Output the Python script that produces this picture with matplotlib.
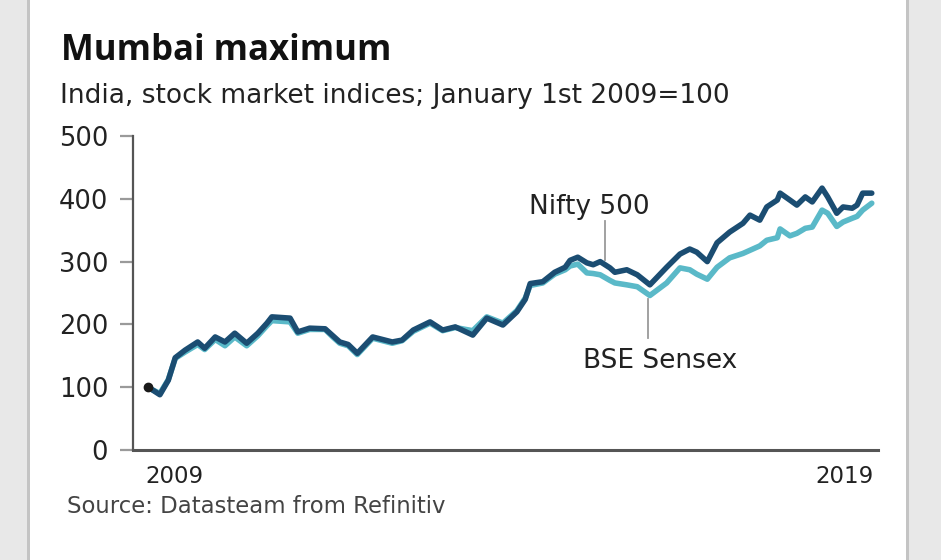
# coding: utf-8

import matplotlib
matplotlib.use('Agg')
from matplotlib import pyplot as plt
from matplotlib.patches import Rectangle

# データ (2009年1月1日=100)
dates = [2009.00, 2009.06, 2009.17, 2009.29, 2009.39, 2009.53, 2009.71, 2009.81,
         2009.96, 2010.10, 2010.24, 2010.41, 2010.57, 2010.70, 2010.77, 2011.03,
         2011.14, 2011.31, 2011.53, 2011.64, 2011.74, 2011.86, 2011.99, 2012.21,
         2012.49, 2012.63, 2012.79, 2013.03, 2013.21, 2013.39, 2013.64, 2013.84,
         2014.07, 2014.27, 2014.39, 2014.46, 2014.64, 2014.81, 2014.96, 2015.03,
         2015.14, 2015.27, 2015.36, 2015.46, 2015.60, 2015.67, 2015.84, 2015.99,
         2016.17, 2016.41, 2016.60, 2016.74, 2016.84, 2016.99, 2017.13, 2017.31,
         2017.50, 2017.60, 2017.74, 2017.84, 2017.99, 2018.03, 2018.17, 2018.27,
         2018.39, 2018.49, 2018.63, 2018.71, 2018.84, 2018.93, 2019.06, 2019.13,
         2019.21, 2019.34]

nifty_500 = [100, 96, 88, 111, 147, 159, 172, 162,
             180, 172, 186, 170, 186, 202, 212, 210,
             188, 194, 193, 182, 172, 168, 154, 180,
             172, 175, 191, 204, 191, 196, 183, 210,
             199, 220, 240, 265, 268, 283, 291, 302,
             307, 298, 295, 300, 290, 283, 287, 279,
             263, 291, 312, 320, 315, 300, 330, 347,
             361, 374, 366, 387, 398, 409, 398, 390,
             403, 395, 417, 403, 377, 387, 385, 390,
             409, 409]

bse_sensex = [100, 96, 90, 112, 146, 156, 168, 160,
              176, 166, 180, 166, 182, 198, 206, 204,
              186, 192, 192, 180, 170, 166, 152, 178,
              170, 174, 189, 202, 190, 195, 190, 212,
              202, 222, 242, 262, 266, 280, 287, 293,
              296, 282, 281, 279, 270, 266, 263, 260,
              246, 266, 290, 287, 280, 272, 291, 306,
              313, 318, 325, 334, 338, 352, 341, 345,
              353, 355, 382, 377, 356, 363, 369, 372,
              382, 393]

y_ticks = [0, 100, 200, 300, 400, 500]

title = 'Mumbai maximum'
subtitle = 'India, stock market indices; January 1st 2009=100'
source = 'Source: Datasteam from Refinitiv'

W, H = 941, 560

# ピクセル座標 -> 図の座標
def fx(px):
    return px / W

def fy(py):
    return 1 - py / H

def main():
    plt.rcParams['font.family'] = ['DejaVu Sans']

    fig = plt.figure(figsize=(W / 100, H / 100), dpi=100)
    fig.patch.set_facecolor('white')

    # 左右の灰色の帯
    fig.add_artist(Rectangle((0, 0), fx(27), 1, transform=fig.transFigure,
                             facecolor='#e8e8e8', edgecolor='none'))
    fig.add_artist(Rectangle((fx(27), 0), fx(3), 1, transform=fig.transFigure,
                             facecolor='#c4c4c4', edgecolor='none'))
    fig.add_artist(Rectangle((fx(906), 0), fx(3), 1, transform=fig.transFigure,
                             facecolor='#c4c4c4', edgecolor='none'))
    fig.add_artist(Rectangle((fx(909), 0), 1 - fx(909), 1, transform=fig.transFigure,
                             facecolor='#e8e8e8', edgecolor='none'))

    ax = fig.add_axes([fx(133), fy(450), fx(878) - fx(133), fy(136) - fy(450)])
    ax.set_facecolor('none')

    # 線を描く
    ax.plot(dates, bse_sensex, color='#5ab9c8', lw=4.0, solid_capstyle='round',
            solid_joinstyle='round', zorder=3)
    ax.plot(dates, nifty_500, color='#1b4d72', lw=4.0, solid_capstyle='round',
            solid_joinstyle='round', zorder=4)
    ax.plot([dates[0]], [nifty_500[0]], 'o', color='#1a1a1a', ms=6, zorder=5)

    # 軸
    ax.set_xlim(2008.786, 2019.429)
    ax.set_ylim(0, 500)
    ax.set_yticks(y_ticks)
    ax.set_yticklabels([str(v) for v in y_ticks])
    ax.set_xticks([])
    ax.tick_params(axis='y', length=9.4, width=1.6, color='#9a9a9a', pad=8.5,
                   labelsize=18.5, labelcolor='#222222')
    for s in ['top', 'right']:
        ax.spines[s].set_visible(False)
    ax.spines['left'].set_color('#555555')
    ax.spines['left'].set_linewidth(1.6)
    ax.spines['bottom'].set_color('#555555')
    ax.spines['bottom'].set_linewidth(2.2)
    ax.spines['bottom'].set_zorder(6)

    # 年のラベル
    ax.text(2008.96, -52, '2009', ha='left', va='baseline', fontsize=16.5,
            color='#222222', clip_on=False)
    ax.text(dates[-1] + 0.02, -52, '2019', ha='right', va='baseline', fontsize=16.5,
            color='#222222', clip_on=False)

    # 系列のラベル
    ax.plot([2015.53, 2015.53], [365, 303], color='#9a9a9a', lw=1.3, zorder=2)
    ax.text(2015.30, 375, 'Nifty 500', ha='center', va='baseline', fontsize=19,
            color='#222222')
    ax.plot([2016.14, 2016.14], [240, 178], color='#9a9a9a', lw=1.3, zorder=2)
    ax.text(2016.31, 131, 'BSE Sensex', ha='center', va='baseline', fontsize=19,
            color='#222222')

    # タイトルなど
    fig.text(fx(61), fy(60), title, ha='left', va='baseline', fontsize=25,
             fontweight='bold', color='#111111', family=['Open Sans', 'DejaVu Sans'])
    fig.text(fx(60), fy(103), subtitle, ha='left', va='baseline', fontsize=19,
             color='#222222')
    fig.text(fx(67), fy(513), source, ha='left', va='baseline', fontsize=16.4,
             color='#444444')

    fig.savefig('out.png', dpi=100)

if __name__ == "__main__":
    main()
